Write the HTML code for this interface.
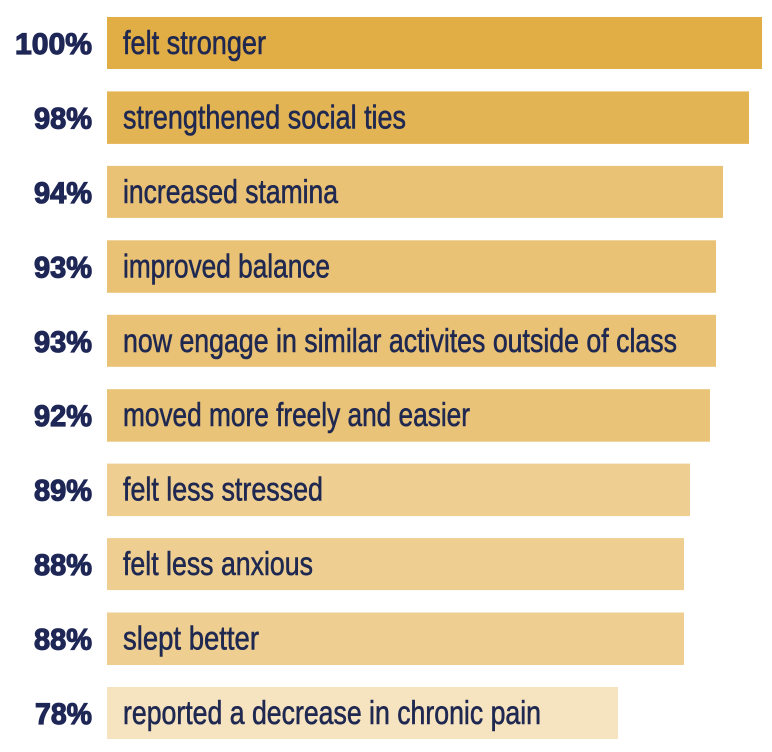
<!DOCTYPE html>
<html>
<head>
<meta charset="utf-8">
<style>
  html, body { margin: 0; padding: 0; background: #ffffff; }
  svg { display: block; }
  .pct { font-family: "Liberation Sans", sans-serif; font-weight: bold; font-size: 30px; fill: #1e2756; stroke: #1e2756; stroke-width: 1.2px; }
  .lbl { font-family: "Liberation Sans", sans-serif; font-size: 33px; fill: #1f2850; stroke: #1f2850; stroke-width: 0.6px; }
</style>
</head>
<body>
<svg width="772" height="752" viewBox="0 0 772 752" xmlns="http://www.w3.org/2000/svg">
  <!-- bars -->
  <rect x="107" y="17" width="655" height="52" fill="#e1ad45"/>
  <rect x="107" y="91.4" width="642" height="52.5" fill="#e3b454"/>
  <rect x="107" y="165.9" width="616" height="52" fill="#e9c275"/>
  <rect x="107" y="240.3" width="609" height="52.5" fill="#e9c275"/>
  <rect x="107" y="314.8" width="609" height="52" fill="#e9c275"/>
  <rect x="107" y="389.2" width="603" height="52.5" fill="#e9c377"/>
  <rect x="107" y="463.6" width="583" height="52.5" fill="#eecf91"/>
  <rect x="107" y="538.1" width="577" height="52" fill="#eecf91"/>
  <rect x="107" y="612.5" width="577" height="52.5" fill="#eecf91"/>
  <rect x="107" y="687" width="511" height="52" fill="#f6e3c0"/>

  <!-- percentages -->
  <text class="pct" x="92" y="54" text-anchor="end" textLength="77" lengthAdjust="spacingAndGlyphs">100%</text>
  <text class="pct" x="92" y="128.4" text-anchor="end" textLength="58" lengthAdjust="spacingAndGlyphs">98%</text>
  <text class="pct" x="92" y="202.9" text-anchor="end" textLength="58" lengthAdjust="spacingAndGlyphs">94%</text>
  <text class="pct" x="92" y="277.3" text-anchor="end" textLength="58" lengthAdjust="spacingAndGlyphs">93%</text>
  <text class="pct" x="92" y="351.8" text-anchor="end" textLength="58" lengthAdjust="spacingAndGlyphs">93%</text>
  <text class="pct" x="92" y="426.2" text-anchor="end" textLength="58" lengthAdjust="spacingAndGlyphs">92%</text>
  <text class="pct" x="92" y="500.6" text-anchor="end" textLength="58" lengthAdjust="spacingAndGlyphs">89%</text>
  <text class="pct" x="92" y="575.1" text-anchor="end" textLength="58" lengthAdjust="spacingAndGlyphs">88%</text>
  <text class="pct" x="92" y="649.5" text-anchor="end" textLength="58" lengthAdjust="spacingAndGlyphs">88%</text>
  <text class="pct" x="92" y="724" text-anchor="end" textLength="57" lengthAdjust="spacingAndGlyphs">78%</text>

  <!-- labels -->
  <text class="lbl" x="123" y="54" textLength="143" lengthAdjust="spacingAndGlyphs">felt stronger</text>
  <text class="lbl" x="123" y="128.4" textLength="283" lengthAdjust="spacingAndGlyphs">strengthened social ties</text>
  <text class="lbl" x="123" y="202.9" textLength="215" lengthAdjust="spacingAndGlyphs">increased stamina</text>
  <text class="lbl" x="123" y="277.3" textLength="207" lengthAdjust="spacingAndGlyphs">improved balance</text>
  <text class="lbl" x="123" y="351.8" textLength="554" lengthAdjust="spacingAndGlyphs">now engage in similar activites outside of class</text>
  <text class="lbl" x="123" y="426.2" textLength="347" lengthAdjust="spacingAndGlyphs">moved more freely and easier</text>
  <text class="lbl" x="123" y="500.6" textLength="200" lengthAdjust="spacingAndGlyphs">felt less stressed</text>
  <text class="lbl" x="123" y="575.1" textLength="190" lengthAdjust="spacingAndGlyphs">felt less anxious</text>
  <text class="lbl" x="123" y="649.5" textLength="136" lengthAdjust="spacingAndGlyphs">slept better</text>
  <text class="lbl" x="123" y="724" textLength="418" lengthAdjust="spacingAndGlyphs">reported a decrease in chronic pain</text>
</svg>
</body>
</html>
